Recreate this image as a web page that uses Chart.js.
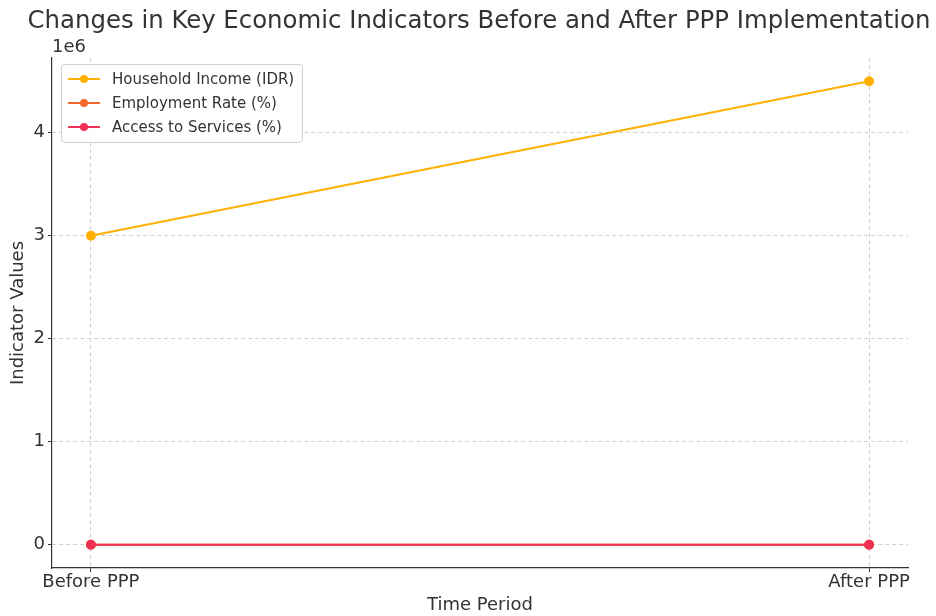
<!DOCTYPE html>
<html>
<head>
<meta charset="utf-8">
<script src="https://cdn.jsdelivr.net/npm/chart.js@4"></script>
<style>
  body { margin: 0; background: #fff; }
  #wrap { position: relative; width: 936px; height: 616px; }
  #legend {
    position: absolute; left: 61px; top: 64px;
    border: 1px solid #d0d0d0; border-radius: 4px; background: rgba(255,255,255,0.85);
    padding: 2px 8px 3px 6px; font: 15px "DejaVu Sans", sans-serif; color: #333;
  }
  .row { display: flex; align-items: center; height: 24px; }
  .sw { position: relative; width: 32px; height: 2px; margin-right: 12px; }
  .sw i { position: absolute; left: 12px; top: -3px; width: 8px; height: 8px; border-radius: 50%; }
</style>
</head>
<body>
<div id="wrap">
  <canvas id="c" width="936" height="616"></canvas>
  <div id="legend"></div>
</div>
<script>
const periods = ["Before PPP", "After PPP"];
const householdIncome = [3000000, 4500000];
const employmentRate = [60, 75];
const accessToServices = [50, 80];
const yTicks = [0, 1000000, 2000000, 3000000, 4000000];

const series = [
  { label: "Household Income (IDR)", values: householdIncome, color: "#ffb000" },
  { label: "Employment Rate (%)", values: employmentRate, color: "#f4692a" },
  { label: "Access to Services (%)", values: accessToServices, color: "#ef3157" },
];

const font = "'DejaVu Sans', sans-serif";
const ink = "#333";

const extras = {
  id: "extras",
  afterDraw(chart) {
    const ctx = chart.ctx;
    ctx.save();
    ctx.fillStyle = ink;
    ctx.font = "24.4px " + font;
    ctx.textAlign = "center";
    ctx.textBaseline = "middle";
    ctx.fillText("Changes in Key Economic Indicators Before and After PPP Implementation", 479, 22);
    ctx.font = "18px " + font;
    ctx.textAlign = "left";
    ctx.fillText("1e6", chart.chartArea.left, 47);
    ctx.restore();
  }
};

new Chart(document.getElementById("c"), {
  type: "line",
  data: {
    datasets: series.map((s, i) => ({
      label: s.label,
      data: s.values.map((v, j) => ({ x: j, y: v })),
      borderColor: s.color,
      backgroundColor: s.color,
      borderWidth: 2,
      pointRadius: 4,
      pointHoverRadius: 4,
      tension: 0,
      order: series.length - i,
    })),
  },
  options: {
    responsive: false,
    animation: false,
    layout: { padding: { top: 58, right: 28, left: 0, bottom: 0 } },
    plugins: { legend: { display: false }, tooltip: { enabled: false } },
    scales: {
      x: {
        type: "linear",
        min: -0.05,
        max: 1.05,
        afterBuildTicks: (s) => { s.ticks = periods.map((p, i) => ({ value: i })); },
        afterFit: (s) => { s.height = 48; },
        ticks: {
          callback: (v) => periods[v],
          color: ink, font: { family: font, size: 18 }, padding: 0, maxRotation: 0,
        },
        grid: { color: "#d0d0d0", tickColor: ink, tickLength: 4, tickBorderDash: [] },
        border: { display: true, color: ink, width: 1.2, dash: [4, 3] },
        title: { display: true, text: "Time Period", color: ink, font: { family: font, size: 18 }, padding: 0 },
      },
      y: {
        min: -225000,
        max: 4725000,
        afterBuildTicks: (s) => { s.ticks = yTicks.map((v) => ({ value: v })); },
        afterFit: (s) => { s.width = 52; },
        ticks: {
          callback: (v) => String(v / 1000000),
          color: ink, font: { family: font, size: 18 }, padding: 3,
        },
        grid: { color: "#d0d0d0", tickColor: ink, tickLength: 4, tickBorderDash: [] },
        border: { display: true, color: ink, width: 1.2, dash: [4, 3] },
        title: { display: true, text: "Indicator Values", color: ink, font: { family: font, size: 18 }, padding: { top: 8 } },
      },
    },
  },
  plugins: [extras],
});

document.getElementById("legend").innerHTML = series.map((s) =>
  `<div class="row"><span class="sw" style="background:${s.color}"><i style="background:${s.color}"></i></span>${s.label}</div>`
).join("");
</script>
</body>
</html>
